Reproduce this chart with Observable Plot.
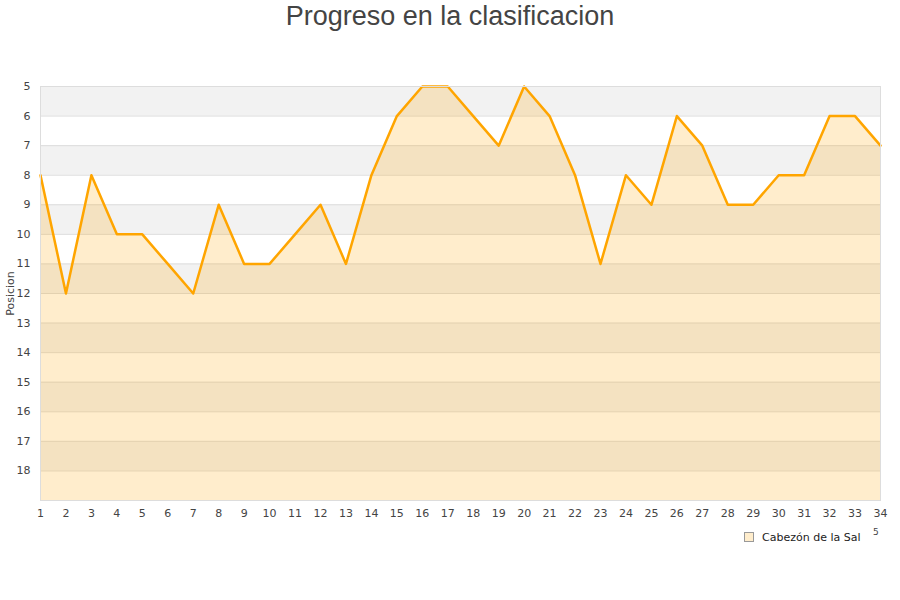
<!DOCTYPE html>
<html>
<head>
<meta charset="utf-8">
<script src="https://cdn.jsdelivr.net/npm/d3@7"></script>
<script src="https://cdn.jsdelivr.net/npm/@observablehq/plot@0.6"></script>
<style>
  body { margin: 0; background: #fff; }
  #wrap { position: relative; width: 900px; height: 600px; }
  #title { height: 50px; font: 27px "Liberation Sans", Arial, sans-serif; color: #444; text-align: center; line-height: 32px; }
  #legend { position: absolute; left: 744px; top: 531px; font: 11px "DejaVu Sans", sans-serif; color: #222; }
  #legend .sw { display: inline-block; width: 8px; height: 8px; background: #ffedcc; border: 1px solid #999; margin-right: 8px; vertical-align: -1px; }
  #stray { position: absolute; left: 873px; top: 527px; font: 9px "DejaVu Sans", sans-serif; color: #444; }
</style>
</head>
<body>
<div id="wrap">
  <div id="title">Progreso en la clasificacion</div>
  <div id="chart"></div>
  <div id="legend"><span class="sw"></span>Cabezón de la Sal</div>
  <div id="stray">5</div>
</div>
<script>
// jornadas y posicion del equipo
const jornadas = d3.range(1, 35)
const posiciones = [8, 12, 8, 10, 10, 11, 12, 9, 11, 11, 10, 9, 11, 8, 6, 5, 5,
                    6, 7, 5, 6, 8, 11, 8, 9, 6, 7, 9, 9, 8, 8, 6, 6, 7]
const yTicks = d3.range(5, 19)
const bandas = [5, 7, 9, 11, 13, 15, 17]
const ultimo = 19

const data = jornadas.map((j, i) => ({jornada: j, pos: posiciones[i]}))

let chart = Plot.plot({
  width: 900,
  height: 475,
  marginTop: 36,
  marginBottom: 25,
  marginLeft: 40,
  marginRight: 20,
  style: {fontFamily: "DejaVu Sans", fontSize: "11px", color: "#444"},
  x: {domain: [1, 34], ticks: jornadas, tickSize: 0, tickPadding: 9, label: null, tickFormat: d => d},
  y: {domain: [5, ultimo], reverse: true, ticks: yTicks, tickSize: 0, tickPadding: 10,
      label: "Posicion", labelAnchor: "center", labelArrow: "none", labelOffset: 34},
  marks: [
    Plot.rect(bandas, {y1: d => d, y2: d => d + 1, fill: "#f2f2f2"}),
    Plot.ruleY(yTicks, {stroke: "#dddddd"}),
    Plot.areaY(data, {x: "jornada", y1: ultimo, y2: "pos", fill: "#ffa500", fillOpacity: 0.2}),
    Plot.line(data, {x: "jornada", y: "pos", stroke: "#ffa500", strokeWidth: 2.5}),
    Plot.frame({stroke: "#dddddd"})
  ]
})

d3.select('#chart').append(() => chart)
</script>
</body>
</html>
